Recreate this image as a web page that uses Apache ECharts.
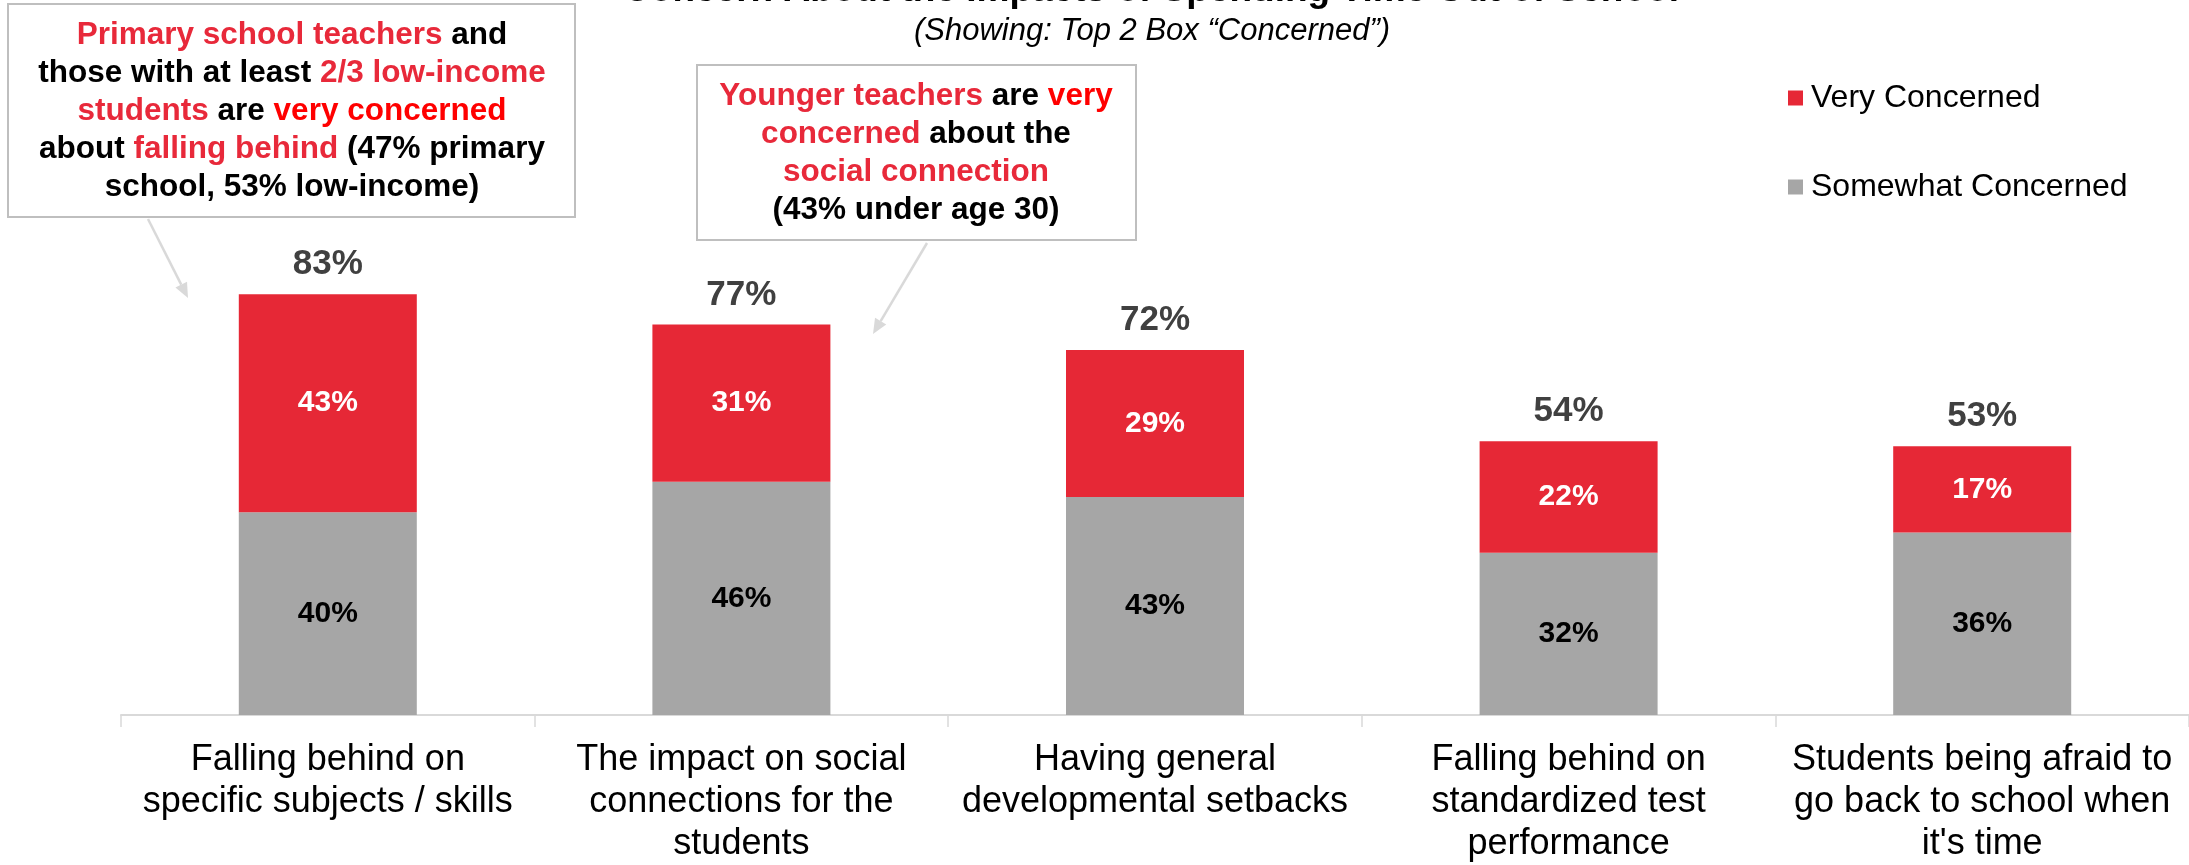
<!DOCTYPE html>
<html>
<head>
<meta charset="utf-8">
<script src="https://cdn.jsdelivr.net/npm/echarts@6/dist/echarts.min.js"></script>
<style>
  html, body { margin: 0; padding: 0; background: #fff; }
  #chart { width: 2189px; height: 865px; }
</style>
</head>
<body>
<div id="chart"></div>
<script>
// Survey answers: share of teachers concerned about each impact of time out of school
const categories = [
  'Falling behind on\nspecific subjects / skills',
  'The impact on social\nconnections for the\nstudents',
  'Having general\ndevelopmental setbacks',
  'Falling behind on\nstandardized test\nperformance',
  "Students being afraid to\ngo back to school when\nit's time"
];
const veryConcerned = [43, 31, 29, 22, 17];
const somewhatConcerned = [40, 46, 43, 32, 36];
const seriesNames = ['Very Concerned', 'Somewhat Concerned'];

// Top 2 box = very + somewhat
const top2Box = categories.map((_, i) => veryConcerned[i] + somewhatConcerned[i]);

const FONT = '"Liberation Sans", Arial, Helvetica, sans-serif';
const RED = '#E62836';
const GREY = '#A6A6A6';
const TEXT_RED = '#E8293A';
const BRIGHT_RED = '#FF0000';
const ARROW = '#D9D9D9';

function arrow(x1, y1, x2, y2) {
  const ang = Math.atan2(y2 - y1, x2 - x1);
  const len = 15, half = 6.5;
  const bx = x2 - len * Math.cos(ang), by = y2 - len * Math.sin(ang);
  const nx = -Math.sin(ang), ny = Math.cos(ang);
  return [
    { type: 'line', silent: true, shape: { x1: x1, y1: y1, x2: bx, y2: by },
      style: { stroke: ARROW, lineWidth: 2.5 } },
    { type: 'polygon', silent: true,
      shape: { points: [[x2, y2], [bx + nx * half, by + ny * half], [bx - nx * half, by - ny * half]] },
      style: { fill: ARROW } }
  ];
}

const CALLOUT_SIZE = 31.5;
const calloutRich = {
  r: { fill: TEXT_RED, fontSize: CALLOUT_SIZE, fontWeight: 'bold', fontFamily: FONT, lineHeight: 38, align: 'center' },
  v: { fill: BRIGHT_RED, fontSize: CALLOUT_SIZE, fontWeight: 'bold', fontFamily: FONT, lineHeight: 38, align: 'center' },
  k: { fill: '#000', fontSize: CALLOUT_SIZE, fontWeight: 'bold', fontFamily: FONT, lineHeight: 38, align: 'center' }
};

const callout1 = [
  '{r|Primary school teachers}{k| and}',
  '{k|those with at least }{r|2/3 low-income}',
  '{r|students}{k| are }{v|very concerned}',
  '{k|about }{r|falling behind}{k| (47% primary}',
  '{k|school, 53% low-income)}'
].join('\n');

const callout2 = [
  '{r|Younger teachers}{k| are }{v|very}',
  '{r|concerned}{k| about the}',
  '{r|social connection}',
  '{k|(43% under age 30)}'
].join('\n');

const chart = echarts.init(document.getElementById('chart'), null, { renderer: 'canvas' });

const labelCommon = { fontFamily: FONT, fontWeight: 'bold', fontSize: 30 };

chart.setOption({
  backgroundColor: '#fff',
  animation: false,
  title: [
    {
      text: 'Concern About the Impacts of Spending Time Out of School',
      left: 1151, top: -28, textAlign: 'center', padding: 0,
      textStyle: { fontFamily: FONT, fontSize: 37, fontWeight: 'bold', color: '#000' }
    },
    {
      text: '(Showing: Top 2 Box \u201cConcerned\u201d)',
      left: 1152, top: 16, textAlign: 'center', padding: 0,
      textStyle: { fontFamily: FONT, fontSize: 31, fontStyle: 'italic', fontWeight: 'normal', color: '#000' }
    }
  ],
  legend: {
    data: seriesNames,
    orient: 'vertical',
    left: 1788, top: 82,
    padding: 0,
    itemWidth: 15, itemHeight: 15, itemGap: 57,
    icon: 'rect',
    selectedMode: false,
    textStyle: { fontFamily: FONT, fontSize: 32, color: '#000', lineHeight: 30, padding: [0, 0, 0, 3] }
  },
  grid: { left: 121, top: 208, width: 2072, height: 508, containLabel: false },
  xAxis: {
    type: 'category',
    data: categories,
    axisLine: { show: true, lineStyle: { color: '#D9D9D9', width: 2 } },
    axisTick: { show: true, length: 12, lineStyle: { color: '#D9D9D9', width: 1.5 } },
    axisLabel: {
      interval: 0, margin: 24,
      fontFamily: FONT, fontSize: 36, lineHeight: 42, color: '#000', align: 'center'
    }
  },
  yAxis: { type: 'value', min: 0, max: 100, show: false, splitLine: { show: false } },
  series: [
    {
      name: seriesNames[1], type: 'bar', stack: 'top2', data: somewhatConcerned,
      barWidth: 178, barGap: '-100%',
      itemStyle: { color: GREY },
      label: Object.assign({ show: true, position: 'inside', color: '#000', formatter: '{c}%' }, labelCommon)
    },
    {
      name: seriesNames[0], type: 'bar', stack: 'top2', data: veryConcerned,
      barWidth: 178, barGap: '-100%',
      itemStyle: { color: RED },
      label: Object.assign({ show: true, position: 'inside', color: '#fff', formatter: '{c}%' }, labelCommon)
    },
    {
      name: 'Top 2 Box', type: 'bar', data: top2Box,
      barWidth: 178, barGap: '-100%', silent: true, z: 1,
      itemStyle: { color: 'rgba(0,0,0,0)' },
      label: {
        show: true, position: 'top', distance: 12, formatter: '{c}%',
        fontFamily: FONT, fontWeight: 'bold', fontSize: 35, color: '#404040'
      }
    }
  ],
  graphic: [
    { type: 'rect', silent: true, shape: { x: 8, y: 4, width: 567, height: 213 },
      style: { fill: '#fff', stroke: '#BFBFBF', lineWidth: 2 } },
    { type: 'text', silent: true, x: 292, y: 111,
      style: { text: callout1, align: 'center', verticalAlign: 'middle',
        fontFamily: FONT, fontSize: CALLOUT_SIZE, fontWeight: 'bold', lineHeight: 38, fill: '#000', rich: calloutRich } },
    { type: 'rect', silent: true, shape: { x: 697, y: 65, width: 439, height: 175 },
      style: { fill: '#fff', stroke: '#BFBFBF', lineWidth: 2 } },
    { type: 'text', silent: true, x: 916, y: 153,
      style: { text: callout2, align: 'center', verticalAlign: 'middle',
        fontFamily: FONT, fontSize: CALLOUT_SIZE, fontWeight: 'bold', lineHeight: 38, fill: '#000', rich: calloutRich } }
  ].concat(arrow(148, 219, 188, 298), arrow(927, 243, 873, 334))
});
</script>
</body>
</html>
